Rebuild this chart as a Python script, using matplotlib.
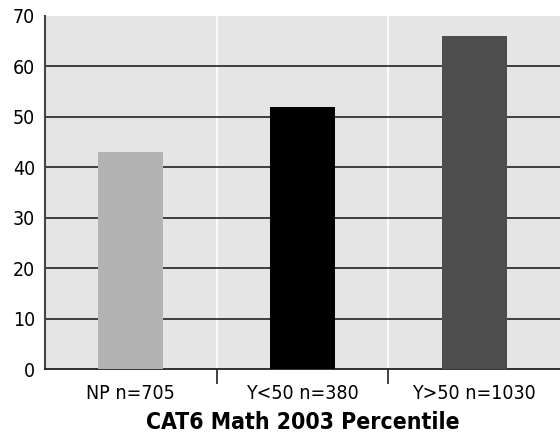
import numpy as np
import matplotlib.pyplot as plt
from matplotlib.ticker import FixedLocator

plt.rcParams['font.family'] = ['DejaVu Sans']
plt.rcParams['font.stretch'] = 'condensed'

groups = ['NP n=705', 'Y<50 n=380', 'Y>50 n=1030']
values = [43, 52, 66]
colors = ['#b3b3b3', '#000000', '#4d4d4d']
yticks = [0, 10, 20, 30, 40, 50, 60, 70]

fig = plt.figure(figsize=(5.6, 4.41), dpi=100)
ax = fig.add_axes([0.080, 0.163, 0.92, 0.801])
ax.set_facecolor('#e5e5e5')

x = np.arange(len(groups))
ax.bar(x, values, width=0.38, color=colors, zorder=3)

ax.set_xlim(-0.5, len(groups) - 0.5)
ax.set_ylim(0, 70)
ax.set_yticks(yticks)
ax.set_xticks(x)
ax.set_xticklabels(groups, fontsize=14)
ax.xaxis.set_minor_locator(FixedLocator(x[:-1] + 0.5))
ax.tick_params(axis='x', which='major', length=0, pad=10.5)
ax.tick_params(axis='x', which='minor', length=11, width=1.2, color='#222222')
ax.tick_params(axis='y', length=0, labelsize=14, pad=7)

for yv in yticks[1:-1]:
    ax.axhline(yv, color='#111111', linewidth=1.1, zorder=2)
ax.grid(True, axis='x', which='minor', color='white', linewidth=1.2, zorder=1)

for s in ['top', 'right']:
    ax.spines[s].set_visible(False)
ax.spines['left'].set_color('#444444')
ax.spines['left'].set_linewidth(1.5)
ax.spines['bottom'].set_color('#222222')
ax.spines['bottom'].set_linewidth(1.3)

ax.set_xlabel('CAT6 Math 2003 Percentile', fontsize=16.5, fontweight='bold', labelpad=6)

fig.savefig('out.png', dpi=100)
